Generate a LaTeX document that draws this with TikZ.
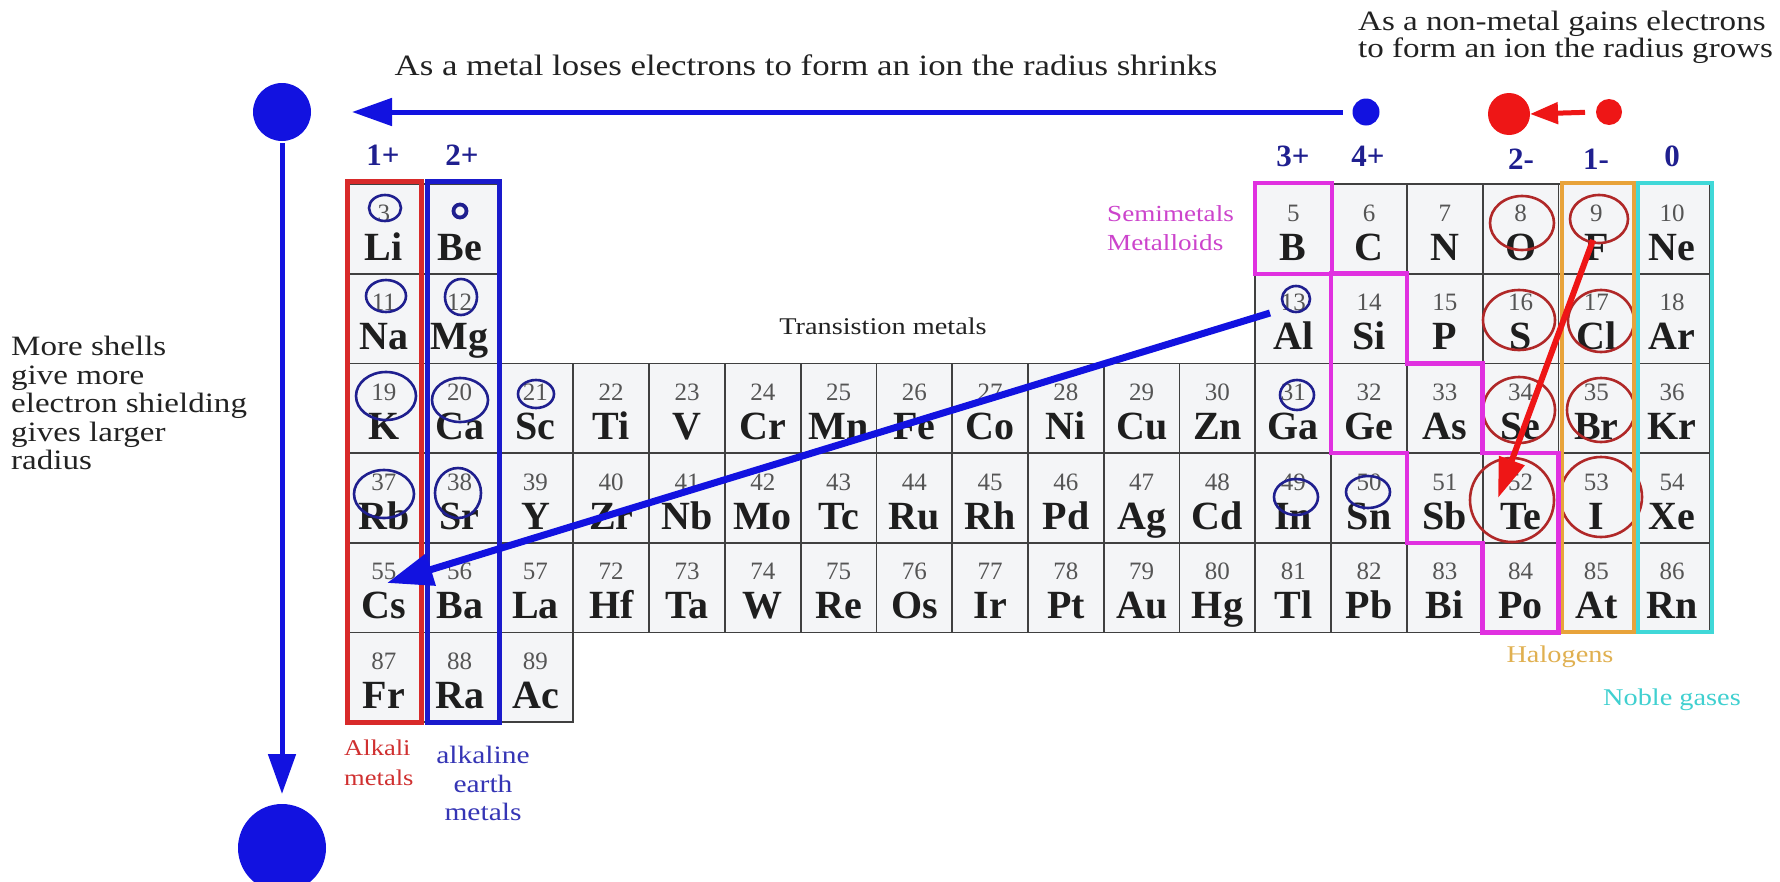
\documentclass[tikz,border=0pt]{standalone}
\usepackage{fontspec}
\setmainfont{Liberation Serif}
\newfontfamily\widefont{Liberation Serif}[FakeStretch=1.18]
\usetikzlibrary{arrows.meta,calc}

\definecolor{navy}{HTML}{1F1F8F}
\definecolor{brightblue}{HTML}{1212E0}
\definecolor{boxblue}{HTML}{1A1ACC}
\definecolor{alkred}{HTML}{D82A2A}
\definecolor{ringred}{HTML}{B02828}
\definecolor{arrred}{HTML}{EE1616}
\definecolor{magen}{HTML}{E030E0}
\definecolor{magtext}{HTML}{CC44CC}
\definecolor{orng}{HTML}{E8A33A}
\definecolor{orngtext}{HTML}{E0B050}
\definecolor{cyn}{HTML}{40D8D8}
\definecolor{cyntext}{HTML}{40D0D0}
\definecolor{gridc}{HTML}{404040}
\definecolor{cellc}{HTML}{F4F5F7}
\definecolor{numc}{HTML}{555555}
\definecolor{symc}{HTML}{1E1E1E}
\definecolor{txtc}{HTML}{222222}
\definecolor{alktext}{HTML}{D03030}
\definecolor{earthtext}{HTML}{3535B5}

\newcommand{\elem}[4]{%
  \pgfmathsetmacro{\elcx}{346+(#1-0.5)*75.78}%
  \pgfmathsetmacro{\elty}{184+(#2-1)*89.7}%
  \node[cell] (cell#4) at (\elcx,\elty+44.85) {};
  \node[num] (num#4) at (\elcx,\elty+37) {#3};
  \node[sym] (sym#4) at (\elcx,\elty+76) {#4};
}

\tikzset{
  cell/.style={draw=gridc, fill=cellc, line width=1.8pt, minimum width=75.78pt, minimum height=89.7pt, inner sep=0pt},
  num/.style={font=\fontsize{25}{25}\selectfont, text=numc, inner sep=0pt, anchor=base},
  sym/.style={font=\bfseries\fontsize{40}{40}\selectfont, text=symc, inner sep=0pt, anchor=base},
  charge/.style={font=\bfseries\fontsize{31}{31}\selectfont, text=navy, inner sep=0pt, anchor=base},
  note/.style={font=\widefont\fontsize{28}{28.5}\selectfont, text=txtc, inner sep=0pt},
  small/.style={font=\widefont\fontsize{21}{30}\selectfont, inner sep=0pt},
  ring/.style={draw=navy, line width=2.6pt},
  redring/.style={draw=ringred, line width=2.6pt},
  grpbox/.style={line width=5pt},
  dot/.style={circle, inner sep=0pt, outer sep=0pt},
  bluearrow/.style={draw=brightblue, line width=5pt, -{Triangle[length=40pt,width=27pt]}},
  diagblue/.style={draw=brightblue, line width=7pt, -{Triangle[length=46pt,width=32pt]}},
  diagred/.style={draw=arrred, line width=6pt, -{Triangle[length=40pt,width=26pt]}},
  shortred/.style={draw=arrred, line width=5pt, -{Triangle[length=28pt,width=21pt]}},
}

\begin{document}
\begin{tikzpicture}[x=1pt,y=-1pt]
\useasboundingbox (0,0) rectangle (1780,881);
\fill[white] (0,0) rectangle (1780,881);

% ---- element cells ----
\foreach \c/\r/\n/\s in {1/1/3/Li,13/1/5/B,14/1/6/C,15/1/7/N,16/1/8/O,17/1/9/F,18/1/10/Ne,
  1/2/11/Na,2/2/12/Mg,13/2/13/Al,14/2/14/Si,15/2/15/P,16/2/16/S,17/2/17/Cl,18/2/18/Ar,
  1/3/19/K,2/3/20/Ca,3/3/21/Sc,4/3/22/Ti,5/3/23/V,6/3/24/Cr,7/3/25/Mn,8/3/26/Fe,9/3/27/Co,
  10/3/28/Ni,11/3/29/Cu,12/3/30/Zn,13/3/31/Ga,14/3/32/Ge,15/3/33/As,16/3/34/Se,17/3/35/Br,18/3/36/Kr,
  1/4/37/Rb,2/4/38/Sr,3/4/39/Y,4/4/40/Zr,5/4/41/Nb,6/4/42/Mo,7/4/43/Tc,8/4/44/Ru,9/4/45/Rh,
  10/4/46/Pd,11/4/47/Ag,12/4/48/Cd,13/4/49/In,14/4/50/Sn,15/4/51/Sb,16/4/52/Te,17/4/53/I,18/4/54/Xe,
  1/5/55/Cs,2/5/56/Ba,3/5/57/La,4/5/72/Hf,5/5/73/Ta,6/5/74/W,7/5/75/Re,8/5/76/Os,9/5/77/Ir,
  10/5/78/Pt,11/5/79/Au,12/5/80/Hg,13/5/81/Tl,14/5/82/Pb,15/5/83/Bi,16/5/84/Po,17/5/85/At,18/5/86/Rn,
  1/6/87/Fr,2/6/88/Ra,3/6/89/Ac}
  {\elem{\c}{\r}{\n}{\s}}
% Be (number hidden under its ring)
\node[cell] (cellBe) at (459.67,228.85) {};
\node[sym] (symBe) at (459.67,260) {Be};

% ---- ion size rings ----
\draw[ring] (385,208) ellipse [x radius=16, y radius=13];
\draw[navy, line width=3.8pt] (460,211) circle [radius=6.5];
\draw[ring] (386,296) ellipse [x radius=20, y radius=16];
\draw[ring] (461,297) ellipse [x radius=16, y radius=18];
\draw[ring] (386,396) ellipse [x radius=30, y radius=24];
\draw[ring] (460,400) ellipse [x radius=28, y radius=22];
\draw[ring] (536,394) ellipse [x radius=18, y radius=14];
\draw[ring] (384,494) ellipse [x radius=30, y radius=24];
\draw[ring] (458,493) ellipse [x radius=23, y radius=25];
\draw[ring] (1296,299) ellipse [x radius=14, y radius=13];
\draw[ring] (1297,395) ellipse [x radius=17, y radius=15];
\draw[ring] (1296,497) ellipse [x radius=22, y radius=18];
\draw[ring] (1368,492) ellipse [x radius=22, y radius=16];
\draw[redring] (1522,223) ellipse [x radius=32, y radius=27];
\draw[redring] (1599,219) ellipse [x radius=29, y radius=24];
\draw[redring] (1519,320) ellipse [x radius=36, y radius=30];
\draw[redring] (1601,321) ellipse [x radius=33, y radius=31];
\draw[redring] (1519,410) ellipse [x radius=36, y radius=33];
\draw[redring] (1601,410) ellipse [x radius=34, y radius=32];
\draw[redring] (1512,500) ellipse [x radius=42, y radius=42];
\draw[redring] (1601,497) ellipse [x radius=41, y radius=40];

% ---- group boxes ----
\draw[grpbox, draw=alkred] (347,181) rectangle (421,722);
\draw[grpbox, draw=boxblue] (427,181) rectangle (499,722);
\draw[grpbox, line width=4.5pt, draw=orng] (1562,183) rectangle (1634,632);
\draw[grpbox, line width=4.5pt, draw=cyn] (1638,183) rectangle (1712,632);
\draw[grpbox, line width=4.5pt, draw=magen] (1255,183) rectangle (1332,274);
\draw[grpbox, line width=4.5pt, draw=magen, line join=miter]
  (1331.1,273.7) -- (1406.9,273.7) -- (1406.9,363.4) -- (1482.7,363.4) -- (1482.7,453.1)
  -- (1558.5,453.1) -- (1558.5,632.5) -- (1482.7,632.5) -- (1482.7,542.8) -- (1406.9,542.8)
  -- (1406.9,453.1) -- (1331.1,453.1) -- cycle;

% ---- charge labels ----
\node[charge] (q1) at (383,165) {1+};
\node[charge] (q2) at (462,165) {2+};
\node[charge] (q3) at (1293,166) {3+};
\node[charge] (q4) at (1368,166) {4+};
\node[charge] (q6) at (1521,169) {2-};
\node[charge] (q7) at (1596,169) {1-};
\node[charge] (q8) at (1672,166) {0};

% ---- texts ----
\node[note, font=\widefont\fontsize{29.5}{30}\selectfont] (title) at (806,65) {As a metal loses electrons to form an ion the radius shrinks};
\node[note, anchor=north west, align=left, font=\widefont\fontsize{28}{27}\selectfont] (nonmetal) at (1358,11)
  {As a non-metal gains electrons\\to form an ion the radius grows};
\node[note, anchor=north west, align=left] (shells) at (11,336)
  {More shells\\give more\\electron shielding\\gives larger\\radius};
\node[small, text=txtc, font=\widefont\fontsize{24}{24}\selectfont] (trans) at (883,326) {Transistion metals};
\node[small, text=magtext, anchor=north west, align=left, font=\widefont\fontsize{23}{29}\selectfont] (semi) at (1107,205)
  {Semimetals\\Metalloids};
\node[small, text=orngtext, font=\widefont\fontsize{24}{24}\selectfont] (halo) at (1560,657) {Halogens};
\node[small, text=cyntext, font=\widefont\fontsize{24}{24}\selectfont] (noble) at (1672,700) {Noble gases};
\node[small, text=alktext, anchor=north west, align=left, font=\widefont\fontsize{22.5}{29.5}\selectfont] (alk) at (344,740)
  {Alkali\\metals};
\node[small, text=earthtext, anchor=north, align=center, font=\widefont\fontsize{25}{28.5}\selectfont] (earth) at (483,746)
  {alkaline\\earth\\metals};

% ---- ion dots ----
\node[dot, fill=brightblue, minimum size=58pt] (bigtop) at (282,112) {};
\node[dot, fill=brightblue, minimum size=88pt] (bigbot) at (282,848) {};
\node[dot, fill=brightblue, minimum size=27pt] (bdot) at (1366,112) {};
\node[dot, fill=arrred, minimum size=42pt] (rbig) at (1509,114) {};
\node[dot, fill=arrred, minimum size=26pt] (rsmall) at (1609,112) {};

% ---- arrows ----
\draw[bluearrow, shorten <=10pt, shorten >=41pt] (bdot.west) -- (bigtop.east);
\draw[bluearrow, shorten <=2pt, shorten >=10pt] (bigtop.south) -- (bigbot.north);
\draw[shortred, shorten <=11pt] (rsmall.west) -- (rbig.east);
\coordinate (alstart) at (1270,313);
\coordinate (cstip) at (387,583);
\draw[diagblue] (alstart) -- (cstip);
\coordinate (fstart) at (1593,240);
\coordinate (tetip) at (1498,498);
\draw[diagred] (fstart) -- (tetip);
\end{tikzpicture}
\end{document}
